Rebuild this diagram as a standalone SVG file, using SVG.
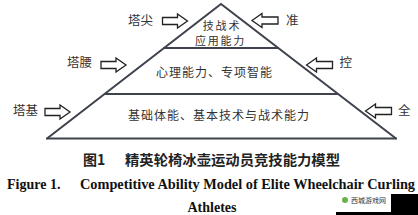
<svg xmlns="http://www.w3.org/2000/svg" width="418" height="215" viewBox="0 0 418 215">
<defs>
<style>
.ln{stroke:#3d424c;stroke-width:2;fill:none;stroke-linecap:round}
.arr{fill:#fff;stroke:#222;stroke-width:1.3;stroke-linejoin:miter}
.cn{font-family:"Noto Sans CJK SC","Noto Sans",sans-serif;font-size:12px;fill:#333;letter-spacing:1px}
.sm{font-size:11px;letter-spacing:1.8px}
.lb{font-family:"Noto Sans CJK SC","Noto Sans",sans-serif;font-size:12.5px;fill:#333}
.cap{font-family:"Noto Sans CJK SC",sans-serif;font-size:14px;font-weight:bold;fill:#222}
.en{font-family:"Liberation Serif","Times New Roman",serif;font-size:14px;font-weight:bold;fill:#111}
</style>
<path id="ra" d="M0,-3.5 H15 V-7 L25,0 L15,7 V3.5 H0 Z"/>
<path id="la" d="M0,0 L10,-7 V-3.5 H26 V3.5 H10 V7 Z"/>
</defs>
<rect width="418" height="215" fill="#fff"/>
<g id="connectors">
<path class="ln" d="M47,138.5 L221,4 L396,138.5"/>
<line class="ln" x1="164" y1="48" x2="278" y2="48"/>
<line class="ln" x1="105" y1="94" x2="337" y2="94"/>
<line class="ln" x1="47" y1="138.5" x2="396" y2="138.5"/>
</g>
<g id="node-top"><text class="cn sm" x="222" y="30" text-anchor="middle">技战术</text><text class="cn sm" x="220.5" y="45" text-anchor="middle">应用能力</text></g>
<g id="node-middle"><text class="cn" x="214.5" y="76.5" text-anchor="middle">心理能力、专项智能</text></g>
<g id="node-bottom"><text class="cn" x="219" y="119.5" text-anchor="middle">基础体能、基本技术与战术能力</text></g>
<g id="label-tajian"><text class="lb" x="128" y="24.5">塔尖</text><use href="#ra" x="162.5" y="21" class="arr"/></g>
<g id="label-tayao"><text class="lb" x="67" y="67">塔腰</text><use href="#ra" x="101" y="65" class="arr"/></g>
<g id="label-taji"><text class="lb" x="13" y="114.5">塔基</text><use href="#ra" x="45" y="112" class="arr"/></g>
<g id="label-zhun"><use href="#la" x="252" y="20.5" class="arr"/><text class="lb" x="286" y="25">准</text></g>
<g id="label-kong"><use href="#la" x="306.5" y="65" class="arr"/><text class="lb" x="339.5" y="67">控</text></g>
<g id="label-quan"><use href="#la" x="365.5" y="111" class="arr"/><text class="lb" x="398" y="115">全</text></g>
<g id="caption">
<text class="cap" x="83" y="165">图1</text>
<text class="cap" x="125" y="165" textLength="215" lengthAdjust="spacingAndGlyphs">精英轮椅冰壶运动员竞技能力模型</text>
<text class="en" x="7" y="189">Figure 1.</text>
<text class="en" x="80" y="189" textLength="335" lengthAdjust="spacingAndGlyphs">Competitive Ability Model of Elite Wheelchair Curling</text>
<text class="en" x="212" y="212" text-anchor="middle">Athletes</text>
</g>
<g id="watermark">
<rect x="391" y="194" width="27" height="21" fill="#000"/>
<rect x="336" y="212" width="82" height="3" fill="#000"/>
<circle cx="345" cy="200" r="3" fill="#6ab04c"/>
<text x="351" y="203" font-family="Noto Sans CJK SC,sans-serif" font-size="7" fill="#333">西城游戏网</text>
</g>
</svg>
